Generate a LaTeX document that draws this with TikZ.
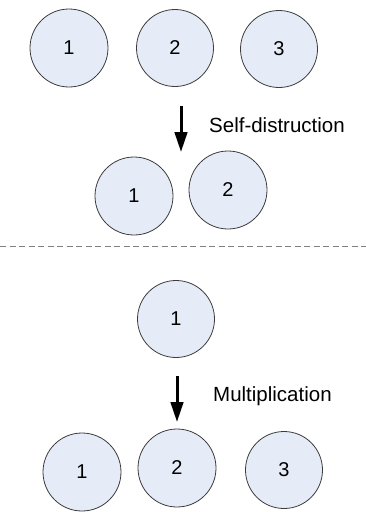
\documentclass[tikz,border=0pt]{standalone}
\usepackage{fontspec}
\setmainfont{Liberation Sans}
\usetikzlibrary{arrows.meta}
\definecolor{cellfill}{RGB}{230,236,247}
\definecolor{celledge}{RGB}{60,60,60}
\begin{document}
\begin{tikzpicture}[x=1pt,y=-1pt,
  cell/.style={circle,draw=celledge,line width=0.8pt,fill=cellfill,
    minimum size=#1,inner sep=0pt,font=\fontsize{20}{24}\selectfont},
  cell/.default=77pt,
  steparrow/.style={line width=3pt,-{Triangle[length=20pt,width=12.5pt]}},
  caption/.style={anchor=base west,inner sep=0pt,font=\fontsize{20.5}{24}\selectfont}]
\useasboundingbox (0,0) rectangle (366,512);

% before self-destruction
\node[cell=78pt] (a1) at (69,48) {1};
\node[cell] (a2) at (175,48) {2};
\node[cell] (a3) at (279,49) {3};

\coordinate (s1) at (181,106);
\coordinate (e1) at (181,152);
\draw[steparrow] (s1) -- (e1);
\node[caption] (l1) at (209,132) {Self-distruction};

% after self-destruction
\node[cell=78pt] (b1) at (134,196) {1};
\node[cell=78pt] (b2) at (228,190) {2};

% separator
\coordinate (dl) at (0,246);
\coordinate (dr) at (366,246);
\draw[gray,line width=0.8pt,dash pattern=on 6pt off 3.5pt] (dl) -- (dr);

% before multiplication
\node[cell] (c1) at (176,319) {1};

\coordinate (s2) at (177,376);
\coordinate (e2) at (177,422);
\draw[steparrow] (s2) -- (e2);
\node[caption] (l2) at (213,401) {Multiplication};

% after multiplication
\node[cell=78pt] (d1) at (82,472) {1};
\node[cell=78pt] (d2) at (177,468) {2};
\node[cell] (d3) at (284,470) {3};
\end{tikzpicture}
\end{document}
